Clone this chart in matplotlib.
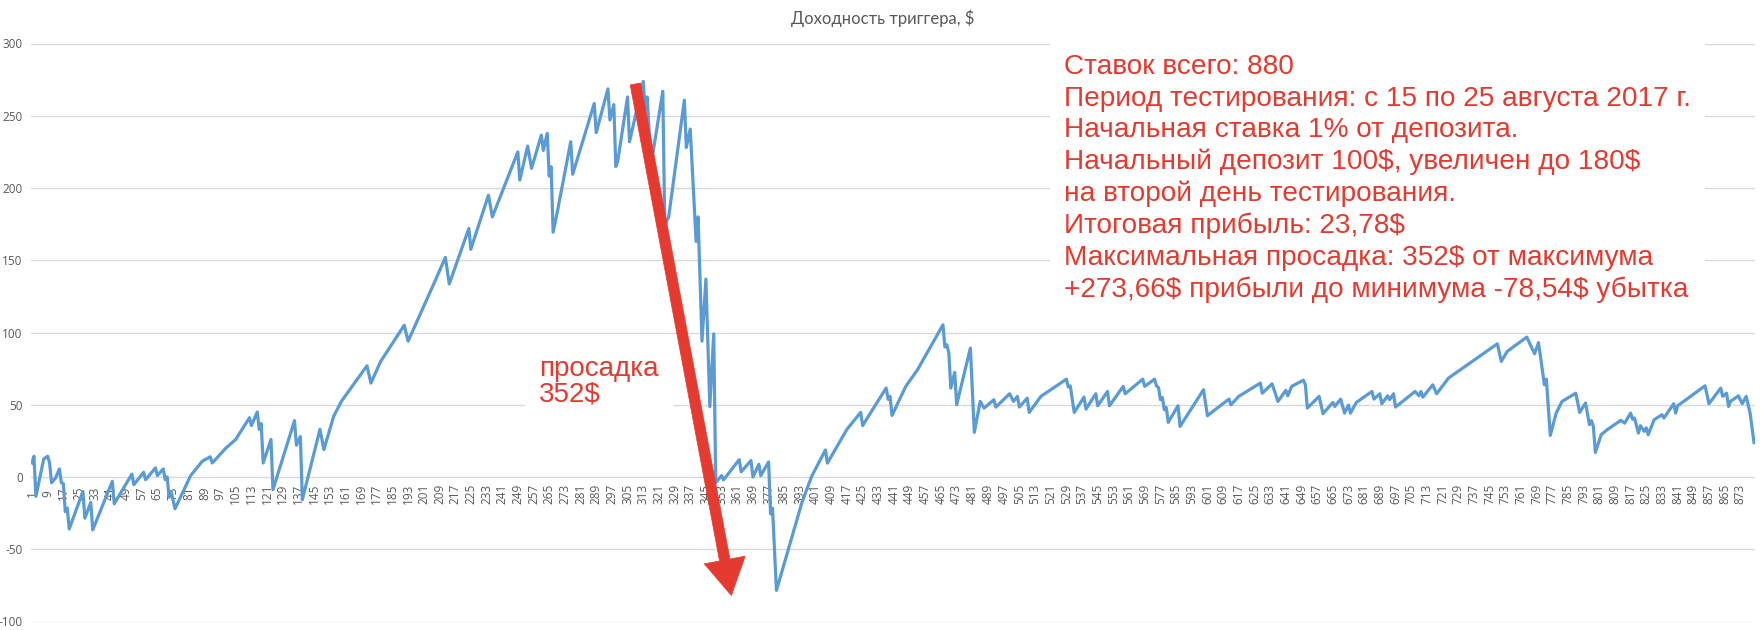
import matplotlib
matplotlib.use("Agg")
import matplotlib.pyplot as plt

# Trade number -> cumulative profit, $ (vertices)
trade_idx = [
    1, 2, 3, 7, 9, 10, 11, 13, 15, 16, 17, 18, 19, 20, 27, 28, 31, 32, 42, 43,
    52, 53, 58, 59, 64, 65, 68, 69, 70, 71, 72, 74, 82, 88, 92, 93, 100, 105,
    112, 113, 116, 117, 118, 119, 123, 124, 135, 136, 138, 139, 148, 150, 155,
    159, 172, 174, 179, 191, 193, 207, 212, 214, 224, 225, 234, 236, 249, 250,
    254, 256, 261, 262, 264, 265, 266, 267, 269, 276, 277, 288, 289, 295, 296,
    298, 299, 300, 305, 306, 313, 314, 315, 317, 323, 324, 326, 334, 335, 337,
    340, 341, 343, 345, 347, 349, 350, 353, 354, 362, 363, 368, 369, 372, 373,
    377, 378, 379, 381, 394, 399, 406, 407, 417, 424, 425, 437, 438, 439, 440,
    447, 453, 466, 467, 468, 469, 470, 472, 473, 480, 482, 485, 487, 492, 493,
    500, 502, 504, 505, 509, 510, 516, 521, 529, 530, 531, 533, 538, 539, 544,
    545, 550, 551, 558, 559, 568, 569, 574, 575, 576, 577, 578, 579, 580, 581,
    586, 587, 599, 601, 606, 612, 613, 617, 628, 629, 634, 637, 641, 642, 644,
    650, 651, 652, 658, 660, 665, 666, 669, 671, 673, 674, 677, 685, 686, 689,
    690, 693, 694, 696, 697, 707, 709, 710, 711, 716, 718, 724, 749, 751, 754,
    764, 768, 770, 773, 774, 776, 779, 782, 789, 791, 794, 796, 797, 798, 799,
    802, 805, 812, 814, 817, 818, 819, 821, 822, 824, 825, 826, 829, 833, 834,
    839, 840, 841, 855, 857, 863, 864, 866, 867, 868, 872, 874, 876, 878, 880,
]
profit = [
    9.7, 14.4, -13.4, 12.5, 14.4, 9.7, -4, -0.7, 5.6, -4, -4.5, -24, -21.5,
    -36, -10, -28.5, -17.6, -36.6, -3, -18.5, 2, -5.3, 3.2, -1.9, 6.3, 1, 5.6,
    -1.9, 0, -14, -10, -22, 1, 11, 14, 9.7, 20, 26, 41, 35.6, 45, 33, 37, 9.7,
    26, -8.8, 39, 22, 28, -15.7, 33, 19, 42, 52.5, 77, 65, 80, 105, 94, 136.4,
    152, 133.6, 172, 157.6, 195, 180, 225, 205.5, 229, 213.6, 236.6, 226,
    237.8, 208.3, 214.7, 169.4, 182.5, 232, 209.5, 258.5, 238.3, 268.6, 247,
    257.7, 214.8, 218.7, 263, 232, 273.8, 254, 263, 216, 267, 174, 180, 260.8,
    228, 240.8, 163, 180, 94, 137, 48.6, 99, -4, 1, -2, 12, 3.6, 11.4, 0, 8.8,
    1, 10.4, -25.5, -21.6, -78.5, -17.7, 0.5, 18.7, 9.6, 33, 44.7, 35.6, 61.6,
    53.8, 55.8, 42.6, 62.7, 74.2, 105.3, 90, 91.5, 85.7, 61.5, 72.4, 50, 89.2,
    30.9, 52.3, 47.7, 53.5, 48.4, 57.6, 52.3, 55.8, 48.4, 54.6, 44.7, 55.8,
    60.4, 67.7, 62.2, 63, 44.7, 55.3, 47, 57.6, 49.3, 59.2, 49.3, 62.7, 57.6,
    67.7, 62.7, 67.7, 63, 62, 53.5, 55, 46.5, 48, 37.8, 49.3, 35, 60.4, 42.4,
    47.7, 53.9, 50, 55.8, 65, 58, 64.5, 52.3, 60, 56.2, 62.7, 67, 63.8, 47.7,
    55.8, 43.8, 51.6, 48.8, 53.9, 44.2, 49.8, 44.2, 51.6, 59.2, 53.9, 57.6,
    50.7, 56.2, 53.5, 57.6, 48.4, 59.2, 56.2, 59.2, 55.3, 63.8, 57.6, 68.4,
    92.2, 80, 86.9, 96.8, 85.3, 93, 63.8, 67.7, 28.8, 44.2, 52.3, 58, 44.7,
    51.2, 36.2, 39, 35, 17, 29.3, 32.7, 39.2, 37.3, 44.2, 40, 40.8, 30.4, 35.5,
    31.6, 34, 29.3, 39.6, 43.1, 40.8, 50.7, 44.2, 49.3, 63.1, 50.7, 61.5, 55.8,
    58, 48.8, 52.3, 56.2, 50.7, 55.8, 44.2, 23.78,
]

n_trades = 880
x_ticks = list(range(1, n_trades + 1, 8))
y_ticks = [-100, -50, 0, 50, 100, 150, 200, 250, 300]

# drawdown arrow: from the peak to the trough
arrow_start = (309, 272)
arrow_end = (358, -82)

title = "Доходность триггера, $"
note_dd = "просадка\n352$"
note_main = ("Ставок всего: 880\n"
             "Период тестирования: с 15 по 25 августа 2017 г.\n"
             "Начальная ставка 1% от депозита.\n"
             "Начальный депозит 100$, увеличен до 180$\n"
             "на второй день тестирования.\n"
             "Итоговая прибыль: 23,78$\n"
             "Максимальная просадка: 352$ от максимума\n"
             "+273,66$ прибыли до минимума -78,54$ убытка")

BLUE = "#5B9BD5"
RED = "#E53A2F"
GREY = "#595959"
GRID = "#D9D9D9"

plt.rcParams['font.family'] = ['Liberation Sans', 'DejaVu Sans']

fig = plt.figure(figsize=(17.62, 6.30), dpi=100)
ax = fig.add_axes([31 / 1762, 8.5 / 630, 1724 / 1762, 578 / 630])

# category axis sits on the zero line, as in Excel (set before the ticks)
ax.spines['bottom'].set_position(('data', 0))
for s in ax.spines.values():
    s.set_visible(False)

ax.plot(trade_idx, profit, color=BLUE, lw=2.3, zorder=3,
        solid_joinstyle='round')

ax.set_xlim(0.5, n_trades + 0.5)
ax.set_ylim(-100, 300)
ax.set_yticks(y_ticks)
ax.set_yticklabels([str(v) for v in y_ticks], fontsize=8.5, color=GREY,
                   family=['Open Sans', 'DejaVu Sans'])
ax.set_xticks(x_ticks)
ax.set_xticklabels([str(v) for v in x_ticks], rotation=90, fontsize=8.5,
                   color=GREY, family=['Open Sans', 'DejaVu Sans'],
                   va='center')
ax.tick_params(axis='both', length=0)
ax.tick_params(axis='x', pad=12)
ax.tick_params(axis='y', pad=6)

ax.grid(axis='y', color=GRID, lw=1.0, zorder=0)
ax.set_axisbelow(True)

fig.text(883 / 1762, 1 - 18 / 630, title, fontsize=12, color=GREY,
         ha='center', va='center', family=['Lato', 'DejaVu Sans'],
         parse_math=False)

ax.text(260, 66, note_dd, fontsize=20, color=RED, va='center', ha='left',
        linespacing=1.0, zorder=4, parse_math=False,
        bbox=dict(facecolor='white', edgecolor='none', pad=10))

ax.text(528, 292.5, note_main, fontsize=20.2, color=RED, va='top', ha='left',
        linespacing=1.27, zorder=4, parse_math=False,
        bbox=dict(facecolor='white', edgecolor='none', pad=10))

ax.annotate('', xy=arrow_end, xytext=arrow_start, zorder=5,
            arrowprops=dict(arrowstyle='simple,head_length=1.3,head_width=1.5,tail_width=0.38',
                            mutation_scale=20, fc=RED, ec=RED, lw=0.5,
                            shrinkA=0, shrinkB=0))

fig.savefig("out.png", dpi=100)
